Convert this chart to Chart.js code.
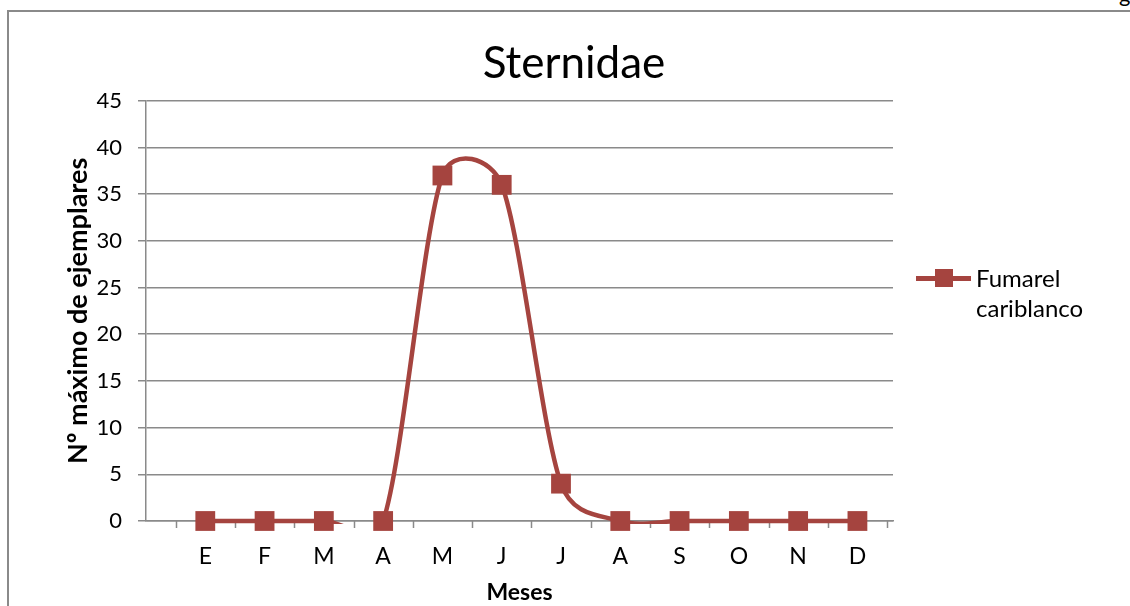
<!DOCTYPE html>
<html>
<head>
<meta charset="utf-8">
<script src="https://cdn.jsdelivr.net/npm/chart.js@4/dist/chart.umd.min.js"></script>
<style>
  html, body { margin: 0; padding: 0; background: #fff; overflow: hidden; }
  #wrap { position: relative; width: 1130px; height: 606px; overflow: hidden; font-family: Lato, sans-serif; }
  #frame { position: absolute; left: 7px; top: 10px; width: 1200px; height: 700px; border: 2px solid #8a8a8a; }
  #corner { position: absolute; left: 1119px; top: -20px; font-size: 22px; color: #000; }
  #myChart { position: absolute; left: 0; top: 0; }
  #legend { position: absolute; left: 916px; top: 263px; }
  .legLine { position: absolute; left: 0; top: 12.5px; width: 55px; height: 5px; }
  .legBox { position: absolute; left: 19px; top: 6px; width: 18px; height: 18px; }
  .legText { position: absolute; left: 60px; top: 0; font-size: 24px; line-height: 30px; color: #000; white-space: nowrap; }
</style>
</head>
<body>
<div id="wrap">
  <div id="frame"></div>
  <div id="corner">g</div>
  <canvas id="myChart" width="1130" height="606"></canvas>
  <div id="legend"></div>
</div>
<script>
const chartTitle = 'Sternidae';
const months = ['E', 'F', 'M', 'A', 'M', 'J', 'J', 'A', 'S', 'O', 'N', 'D'];
const fumarelValues = [0, 0, 0, 0, 37, 36, 4, 0, 0, 0, 0, 0];
const seriesLabel = ['Fumarel', 'cariblanco'];
const yTicks = { min: 0, max: 45, step: 5 };

const lineColor = '#a5443f';
const gridColor = '#8a8a8a';
const myChartElement = document.getElementById('myChart');

let points = fumarelValues.map((v, i) => ({ x: i, y: v }));

// little marks between the month labels, under the x axis
const tickMarks = {
  id: 'tickMarks',
  beforeDatasetsDraw(chart) {
    const xs = chart.scales.x;
    const ctx = chart.ctx;
    const bottom = chart.chartArea.bottom;
    ctx.save();
    ctx.strokeStyle = gridColor;
    ctx.lineWidth = 1.5;
    for (let k = -0.5; k <= months.length - 0.5; k++) {
      let px = Math.round(xs.getPixelForValue(k)) + 0.5;
      ctx.beginPath();
      ctx.moveTo(px, bottom);
      ctx.lineTo(px, bottom + 7);
      ctx.stroke();
    }
    ctx.restore();
  }
};

// Excel style smoothing: arms of 1/6 of the neighbour chord, never longer than half the segment
const excelSmooth = {
  id: 'excelSmooth',
  beforeDatasetDraw(chart, args) {
    const meta = args.meta;
    const line = meta.dataset;
    if (!line || !line.updateControlPoints) return;
    line.updateControlPoints(chart.chartArea);
    const pts = meta.data;
    const n = pts.length;
    const dist = (a, b) => Math.hypot(b.x - a.x, b.y - a.y);
    for (let i = 0; i < n; i++) {
      let p = pts[i];
      let prev = pts[Math.max(i - 1, 0)];
      let next = pts[Math.min(i + 1, n - 1)];
      let tx = next.x - prev.x;
      let ty = next.y - prev.y;
      let tl = Math.hypot(tx, ty) || 1;
      let f1 = Math.min(1 / 6, dist(prev, p) / 2 / tl);
      let f2 = Math.min(1 / 6, dist(p, next) / 2 / tl);
      p.cp1x = p.x - tx * f1;
      p.cp1y = p.y - ty * f1;
      p.cp2x = p.x + tx * f2;
      p.cp2y = p.y + ty * f2;
    }
  }
};

let myDataset = [
  {
    // markers on top, not clipped
    label: seriesLabel.join(' '),
    data: points,
    showLine: false,
    borderColor: lineColor,
    backgroundColor: lineColor,
    clip: false,
    pointStyle: 'rect',
    pointRadius: 14,
    pointHoverRadius: 14,
    pointBorderWidth: 0
  },
  {
    // smoothed line, cut a little under the plot like the original
    label: seriesLabel.join(' '),
    data: points,
    borderColor: lineColor,
    backgroundColor: lineColor,
    borderWidth: 4.5,
    tension: 0.5,
    clip: { left: false, top: false, right: false, bottom: 3 },
    pointRadius: 0,
    pointHoverRadius: 0
  }
];

let myOptions = {
  responsive: false,
  animation: false,
  devicePixelRatio: 1,
  layout: { padding: { left: 18, right: 0, top: 0, bottom: 0 } },
  plugins: {
    legend: { display: false },
    tooltip: { enabled: false },
    title: {
      display: true,
      text: chartTitle,
      color: '#000',
      font: { family: 'Lato', size: 44, weight: 'normal', lineHeight: 1.2 },
      padding: { top: 37, bottom: 11 }
    }
  },
  scales: {
    x: {
      type: 'linear',
      min: -1,
      max: 11.6,
      afterBuildTicks: (scale) => {
        scale.ticks = months.map((m, i) => ({ value: i }));
      },
      afterFit: (scale) => { scale.height = 85; },
      grid: { display: false },
      border: { display: true, color: gridColor, width: 1.5 },
      ticks: {
        autoSkip: false,
        maxRotation: 0,
        padding: 14,
        color: '#000',
        font: { family: 'Lato', size: 23 },
        callback: (value, index) => months[index]
      },
      title: {
        display: true,
        text: 'Meses',
        color: '#000',
        font: { family: 'Lato', size: 23, weight: 'bold', lineHeight: 1.2 },
        padding: { top: 0, bottom: 0 }
      }
    },
    y: {
      min: yTicks.min,
      max: yTicks.max,
      afterFit: (scale) => { scale.width = 128; },
      grid: { color: gridColor, lineWidth: 1.5, tickLength: 8 },
      border: { display: true, color: gridColor, width: 1.5 },
      ticks: {
        stepSize: yTicks.step,
        padding: 16,
        color: '#000',
        font: { family: 'Lato', size: 22 }
      },
      title: {
        display: true,
        text: 'Nº máximo de ejemplares',
        color: '#000',
        font: { family: 'Lato', size: 27, weight: 'bold', lineHeight: 1.2 },
        padding: { top: 44, bottom: 0 }
      }
    },
    yRight: {
      type: 'linear',
      position: 'right',
      display: true,
      afterFit: (scale) => { scale.width = 237; },
      grid: { display: false },
      border: { display: false },
      ticks: { display: false }
    }
  }
};

let myChart = new Chart(myChartElement, {
  type: 'line',
  data: { datasets: myDataset },
  options: myOptions,
  plugins: [tickMarks, excelSmooth]
});

// legend on the right, two lines of text like the original
function setLegend() {
  const legend = document.getElementById('legend');
  const ds = myChart.data.datasets[1];
  legend.innerHTML =
    '<div class="legLine" style="background:' + ds.borderColor + '"></div>' +
    '<div class="legBox" style="background:' + ds.backgroundColor + '"></div>' +
    '<div class="legText">' + seriesLabel.join('<br>') + '</div>';
}

setLegend();
</script>
</body>
</html>
